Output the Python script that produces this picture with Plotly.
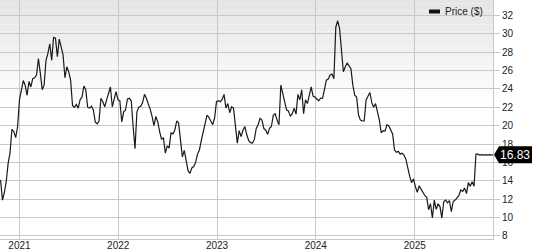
import pandas as pd
import plotly.graph_objects as go

# Weekly closing prices (USD)
start_date = "2020-10-23"
prices = [
    14.1, 11.9, 12.7, 13.9, 15.9, 17.0, 19.6, 19.35, 18.7, 19.9,
    22.8, 23.9, 24.9, 24.4, 23.3, 24.8, 24.2, 25.1, 25.2, 25.5,
    27.3, 25.7, 23.9, 24.4, 27.1, 27.85, 28.9, 27.1, 29.6, 29.5,
    27.5, 29.4, 28.6, 27.7, 25.2, 26.4, 25.85, 24.95, 22.2, 22.0,
    22.3, 21.9, 22.8, 23.1, 24.3, 23.9, 22.0, 21.9, 22.1, 21.7,
    20.4, 20.2, 20.5, 22.97, 22.6, 22.05, 22.8, 23.5, 24.2, 22.05,
    22.97, 23.7, 22.8, 22.7, 20.4, 21.5, 21.7, 22.9, 22.97, 22.7,
    19.9, 17.5, 21.5, 22.0, 22.1, 22.5, 23.4, 22.97, 22.35, 21.8,
    21.0, 20.0, 21.0, 20.4, 19.35, 18.5, 18.7, 17.0, 17.8, 17.55,
    19.2, 19.1, 19.5, 20.5, 20.3, 18.4, 16.6, 17.3, 16.3, 15.1,
    14.8, 15.4, 15.55, 16.0, 16.9, 17.35, 18.4, 19.35, 19.96, 21.15,
    20.9, 20.5, 20.1, 20.8, 22.6, 22.7, 22.6, 22.85, 23.4, 21.9,
    22.4, 21.4, 22.05, 21.9, 19.7, 18.1, 19.45, 18.8, 19.5, 19.9,
    19.0, 18.4, 18.15, 18.1, 18.5, 19.7, 20.1, 20.8, 20.6, 19.7,
    19.5, 19.05, 19.7, 19.9, 21.15, 21.3, 20.6, 20.1, 24.4, 23.3,
    22.6, 21.7, 21.6, 21.0, 21.3, 21.9, 21.25, 23.4, 22.8, 23.9,
    21.3, 22.8, 22.4, 23.3, 24.2, 23.2, 23.1, 22.9, 22.7, 23.0,
    22.97, 23.9, 24.95, 25.06, 25.5, 25.6, 25.1, 30.7, 31.4, 30.55,
    28.4, 25.85, 26.4, 26.8, 26.5, 26.2, 24.4, 23.3, 23.1, 21.15,
    20.6, 20.5, 20.5, 22.8, 23.2, 23.6, 22.5, 22.0, 22.4, 21.5,
    20.6, 19.2, 19.45, 19.4, 20.1, 19.96, 19.5, 19.1, 17.35, 17.1,
    17.2, 16.9, 17.0, 16.8, 16.35, 15.2, 14.5, 13.8, 14.2, 13.4,
    12.75, 13.45, 13.1, 12.66, 12.4, 12.2, 10.85, 11.5, 9.95, 11.9,
    10.9, 11.5, 11.2, 9.95, 11.75, 11.9, 11.6, 11.85, 10.65, 11.75,
    11.9, 12.15, 12.4, 13.0, 12.85, 13.2, 12.6, 13.8, 13.4, 13.9,
    13.4, 16.9, 16.9, 16.8, 16.85, 16.8, 16.85, 16.8, 16.85, 16.8,
    16.83,
]
last_price = 16.83
series_name = "Price ($)"
y_ticks = [8, 10, 12, 14, 16, 18, 20, 22, 24, 26, 28, 30, 32]

dates = pd.date_range(start_date, periods=len(prices), freq="7D")

W, H = 533, 250
ML, MR, MT, MB = 0, 40, 0, 11
PW = W - ML - MR
PH = H - MT - MB

GRID = "#c8c8c8"
FONT = "Arial, Liberation Sans, sans-serif"

fig = go.Figure()
fig.add_trace(go.Scatter(
    x=dates, y=prices, mode="lines", name=series_name,
    line=dict(color="#1a1a1a", width=1.2), showlegend=False,
    hoverinfo="x+y",
))

shapes = []
# vertical background gradient (light grey at top fading to white)
n_bands = 30
grad_px = 105
for i in range(n_bands):
    y0 = 1 - (i * grad_px / n_bands) / PH
    y1 = 1 - ((i + 1) * grad_px / n_bands) / PH
    t = i / (n_bands - 1)
    c = int(229 + (255 - 229) * t)
    shapes.append(dict(type="rect", xref="paper", yref="paper",
                       x0=0, x1=1, y0=y1, y1=y0, layer="below",
                       line=dict(width=0),
                       fillcolor=f"rgb({c},{c},{c})"))


def px_x(p):
    return p / PW


def px_y(p):
    return 1 - p / PH


# legend swatch
shapes.append(dict(type="rect", xref="paper", yref="paper",
                   x0=px_x(429), x1=px_x(440), y0=px_y(13.5), y1=px_y(9.5),
                   fillcolor="#111111", line=dict(width=0)))

# last-price tag (arrow-shaped black box)
shapes.append(dict(type="path", xref="paper", yref="y",
                   xsizemode="pixel", ysizemode="pixel",
                   xanchor=1, yanchor=last_price,
                   path="M 1,0 L 6,8.5 L 39,8.5 L 39,-8.5 L 6,-8.5 Z",
                   fillcolor="#000000", line=dict(width=0)))

annotations = [
    dict(x=px_x(443), y=px_y(11.5), xref="paper", yref="paper",
         text=series_name, showarrow=False, xanchor="left", yanchor="middle",
         font=dict(family=FONT, size=10, color="#222222")),
    dict(x=1, y=last_price, xref="paper", yref="y", text=f"{last_price:.2f}",
         showarrow=False, xanchor="left", yanchor="middle", xshift=5,
         font=dict(family=FONT, size=12, color="#ffffff")),
]

fig.update_layout(
    width=W, height=H,
    margin=dict(l=ML, r=MR, t=MT, b=MB, pad=0),
    paper_bgcolor="#ffffff", plot_bgcolor="rgba(0,0,0,0)",
    shapes=shapes, annotations=annotations,
    font=dict(family=FONT, size=10, color="#222222"),
    showlegend=False,
)
fig.update_xaxes(
    range=["2020-10-21", "2025-10-17"],
    tickformat="%Y", dtick="M12", tick0="2021-01-01",
    showgrid=True, gridcolor=GRID, gridwidth=1,
    showline=True, linecolor=GRID, linewidth=1, mirror=True,
    ticks="", ticklen=0, automargin=False, zeroline=False,
    ticklabelstandoff=-3,
    tickfont=dict(size=10, color="#222222"),
)
fig.update_yaxes(
    range=[7.67, 33.66], side="right",
    tickvals=y_ticks,
    showgrid=True, gridcolor=GRID, gridwidth=1,
    showline=True, linecolor=GRID, linewidth=1, mirror=True,
    ticks="outside", ticklen=6, tickcolor=GRID,
    automargin=False, zeroline=False,
    tickfont=dict(size=10, color="#222222"),
)

fig.write_html("out.html")
